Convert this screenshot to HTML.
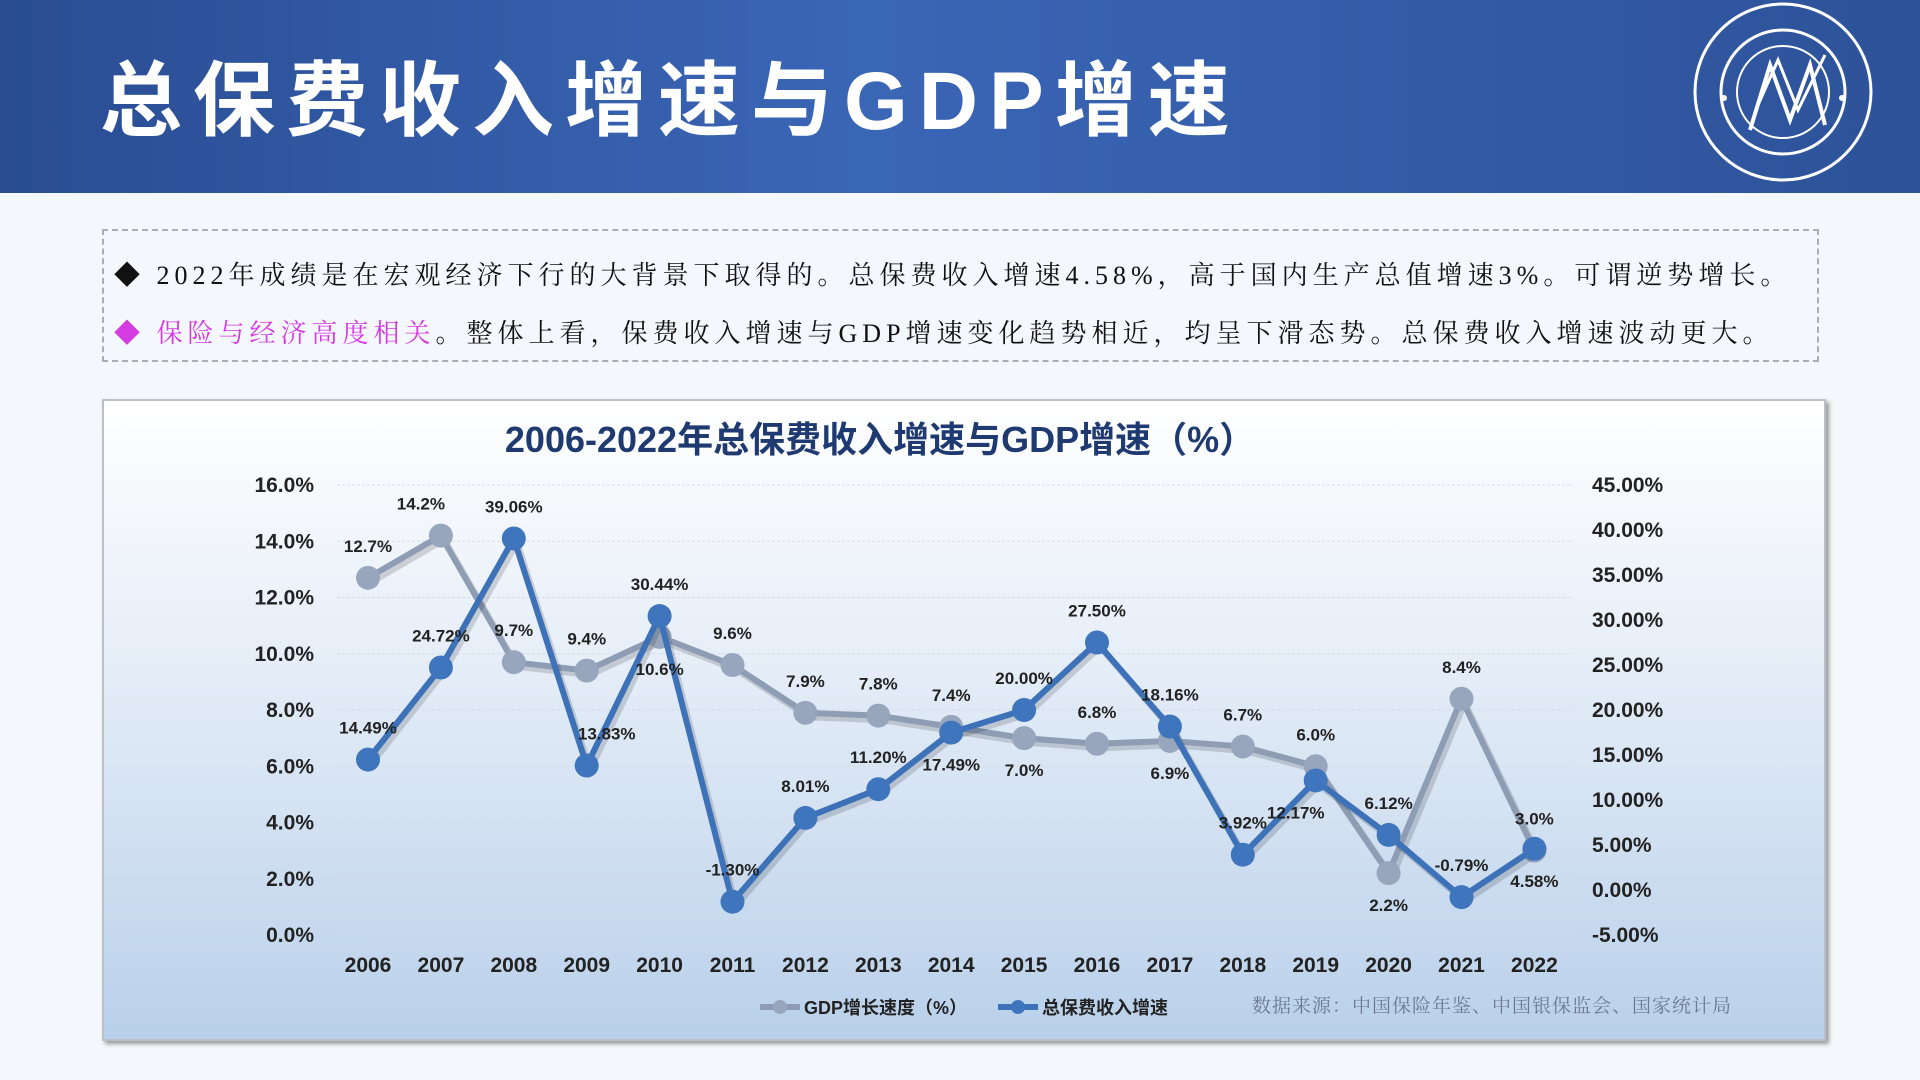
<!DOCTYPE html>
<html><head><meta charset="utf-8">
<style>
html,body{margin:0;padding:0;width:1920px;height:1080px;overflow:hidden;background:#f4f7fb;font-family:"Liberation Sans","Noto Sans CJK SC",sans-serif;}
#header{position:absolute;left:0;top:0;width:1920px;height:193px;background:linear-gradient(90deg,#2a4d93 0%,#3a66b6 45%,#2d5299 100%);}
#title{position:absolute;left:100px;top:34px;font-size:82px;font-weight:bold;color:#fff;letter-spacing:11px;font-family:"Liberation Sans","Noto Sans CJK SC",sans-serif;}
#note{position:absolute;left:102px;top:229px;width:1717px;height:133px;border:2px dashed #a9adb5;box-sizing:border-box;}
.line{position:absolute;left:10px;font-size:26px;color:#111;font-family:"Liberation Serif","Noto Serif CJK SC",serif;white-space:nowrap;letter-spacing:5px;}
#panel{position:absolute;left:102px;top:399px;width:1724px;height:642px;border:2px solid #b9c0ca;box-sizing:border-box;background:linear-gradient(180deg,#ffffff 0%,#e6eef8 40%,#b9d0ea 100%);box-shadow:3px 3px 4px #999;}
</style></head><body>
<div id="header">
  <div id="title">总保费收入增速与GDP增速</div>
  <svg style="position:absolute;left:1690px;top:0" width="190" height="190">
    <circle cx="93" cy="92" r="88" fill="none" stroke="#fff" stroke-width="3"/>
    <circle cx="93" cy="92" r="62" fill="none" stroke="#fff" stroke-width="3"/>
    <circle cx="93" cy="92" r="46" fill="none" stroke="#fff" stroke-width="2"/>
    <polyline points="60,130 80,65 100,120 120,65 135,125" fill="none" stroke="#fff" stroke-width="4"/>
    <polyline points="68,105 88,60 108,110 135,55" fill="none" stroke="#fff" stroke-width="3"/>
    <circle cx="34" cy="98" r="3" fill="#fff"/><circle cx="152" cy="98" r="3" fill="#fff"/>
  </svg>
</div>
<div id="note">
  <div class="line" style="top:24px">◆ 2022年成绩是在宏观经济下行的大背景下取得的。总保费收入增速4.58%，高于国内生产总值增速3%。可谓逆势增长。</div>
  <div class="line" style="top:82px"><span style="color:#d43be0">◆ 保险与经济高度相关</span>。整体上看，保费收入增速与GDP增速变化趋势相近，均呈下滑态势。总保费收入增速波动更大。</div>
</div>
<div id="panel"></div>
<svg id="chart" style="position:absolute;left:0;top:0" width="1920" height="1080"></svg>
<script>
const years=["2006","2007","2008","2009","2010","2011","2012","2013","2014","2015","2016","2017","2018","2019","2020","2021","2022"];
const gdp=[12.7,14.2,9.7,9.4,10.6,9.6,7.9,7.8,7.4,7.0,6.8,6.9,6.7,6.0,2.2,8.4,3.0];
const premium=[14.49,24.72,39.06,13.83,30.44,-1.30,8.01,11.20,17.49,20.00,27.50,18.16,3.92,12.17,6.12,-0.79,4.58];
const gdpLabels=["12.7%","14.2%","9.7%","9.4%","10.6%","9.6%","7.9%","7.8%","7.4%","7.0%","6.8%","6.9%","6.7%","6.0%","2.2%","8.4%","3.0%"];
const premiumLabels=["14.49%","24.72%","39.06%","13.83%","30.44%","-1.30%","8.01%","11.20%","17.49%","20.00%","27.50%","18.16%","3.92%","12.17%","6.12%","-0.79%","4.58%"];
const gdpPlace=["a","al","a","a","b","a","a","a","a","b","a","b","a","a","b","a","a"];
const premiumPlace=["a","a","a","ar","a","a","a","a","b","a","a","a","a","bl","a","a","b"];
const leftTicks=[0,2,4,6,8,10,12,14,16];
const rightTicks=[-5,0,5,10,15,20,25,30,35,40,45];

const svg=document.getElementById('chart');
const NS='http://www.w3.org/2000/svg';
const X0=368,XSTEP=72.9,YTOP=485,YBOT=935,PL=337,PR=1573;
const x=i=>X0+i*XSTEP;
const yL=v=>YBOT-(v-0)/16*(YBOT-YTOP);
const yR=v=>YBOT-(v+5)/50*(YBOT-YTOP);
function mk(tag,attrs,name,text){const e=document.createElementNS(NS,tag);for(const k in attrs)e.setAttribute(k,attrs[k]);


if(text!==undefined)e.textContent=text;svg.appendChild(e);return e;}
const F='"Liberation Sans","Noto Sans CJK SC",sans-serif';
mk('text',{x:880,y:452,'text-anchor':'middle','font-size':36,'font-weight':'bold',fill:'#1f3a70','font-family':F},'chart-title','2006-2022年总保费收入增速与GDP增速（%）');
leftTicks.forEach(v=>{
  mk('line',{x1:PL,x2:PR,y1:yL(v),y2:yL(v),stroke:'#d4dbe5','stroke-width':1,'stroke-dasharray':'3,2'},'gridline');
  mk('text',{x:314,y:yL(v)+7,'text-anchor':'end','font-size':21,'font-weight':'bold',fill:'#222','font-family':F},'left-tick-label',v.toFixed(1)+'%');
});
rightTicks.forEach(v=>{
  mk('text',{x:1592,y:yR(v)+7,'text-anchor':'start','font-size':21,'font-weight':'bold',fill:'#222','font-family':F},'right-tick-label',v.toFixed(2)+'%');
});
years.forEach((yr,i)=>{
  mk('text',{x:x(i),y:972,'text-anchor':'middle','font-size':21,'font-weight':'bold',fill:'#222','font-family':F},'x-tick-label',yr);
});
function series(vals,yf,color,mcolor,name){
  const pts=vals.map((v,i)=>x(i)+','+yf(v)).join(' ');
  mk('polyline',{points:pts,fill:'none',stroke:'#000','stroke-opacity':0.15,'stroke-width':7,transform:'translate(3,4)'},name+'-shadow');
  mk('polyline',{points:pts,fill:'none',stroke:color,'stroke-width':6,'stroke-linejoin':'round'},name+'-line');
  vals.forEach((v,i)=>{mk('circle',{cx:x(i),cy:yf(v),r:12,fill:mcolor},name+'-point');});
}
series(gdp,yL,'#8e9cb4','#98a6bd','gdp');
series(premium,yR,'#3d72b8','#3f75bd','premium');
function labels(vals,yf,txt,place,name){
  vals.forEach((v,i)=>{const p=place[i];let dx=0,dy=-26;
    if(p[0]==='b')dy=38;
    if(p.length>1)dx=p[1]==='l'?-20:20;
    mk('text',{x:x(i)+dx,y:yf(v)+dy,'text-anchor':'middle','font-size':17,'font-weight':'bold',fill:'#222','font-family':F},name+'-label',txt[i]);});
}
labels(gdp,yL,gdpLabels,gdpPlace,'gdp');
labels(premium,yR,premiumLabels,premiumPlace,'premium');
mk('line',{x1:760,x2:800,y1:1007,y2:1007,stroke:'#8e9cb4','stroke-width':6},'legend-gdp-line');
mk('circle',{cx:780,cy:1007,r:7,fill:'#98a6bd'},'legend-gdp-marker');
mk('text',{x:804,y:1014,'font-size':18,'font-weight':'bold',fill:'#222','font-family':F},'legend-gdp-text','GDP增长速度（%）');
mk('line',{x1:998,x2:1038,y1:1007,y2:1007,stroke:'#3d72b8','stroke-width':6},'legend-premium-line');
mk('circle',{cx:1018,cy:1007,r:7,fill:'#3f75bd'},'legend-premium-marker');
mk('text',{x:1042,y:1014,'font-size':18,'font-weight':'bold',fill:'#222','font-family':F},'legend-premium-text','总保费收入增速');
mk('text',{x:1252,y:1012,'font-size':19,fill:'#6b7a90','font-family':'"Liberation Serif","Noto Serif CJK SC",serif','letter-spacing':1},'source-note','数据来源：中国保险年鉴、中国银保监会、国家统计局');
</script>
</body></html>
